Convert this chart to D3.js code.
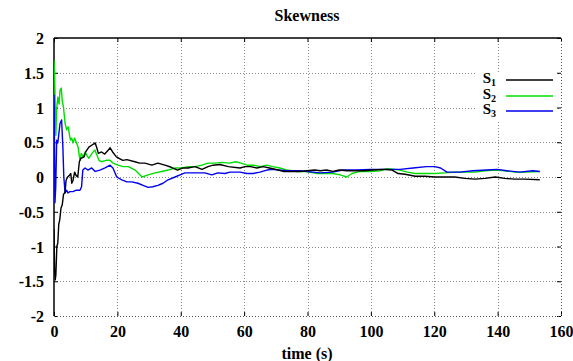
<!DOCTYPE html>
<html>
<head>
<meta charset="utf-8">
<script src="https://cdn.jsdelivr.net/npm/d3@7"></script>
<style>
  html, body { margin: 0; padding: 0; background: #fff; }
  svg { display: block; }
  text { font-family: "Liberation Serif", "DejaVu Serif", serif; font-weight: bold; fill: #000; }
</style>
</head>
<body>
<svg id="chart" width="573" height="361"></svg>
<script>
// Axis ticks
const xTicks = [0, 20, 40, 60, 80, 100, 120, 140, 160];
const yTicks = [-2, -1.5, -1, -0.5, 0, 0.5, 1, 1.5, 2];

// S1 (black)
const s1Time = [0, 0.2, 0.4, 0.6, 0.9, 1.2, 1.5, 1.8, 2.2, 2.6, 3.0, 3.5, 3.8, 4.3, 4.8, 5.3, 5.6, 6.0, 6.5, 7.0, 7.5, 8.0, 8.5, 9.5, 10, 11, 12, 13, 13.5, 14, 15, 16, 17, 17.7, 18.5, 19.7, 21.7, 23, 25.5, 27, 28.7, 30.9, 32.8, 35, 37, 39, 40.7, 42.3, 44.5, 46.7, 48.6, 50.2, 52.4, 55, 58.7, 60.3, 62, 64, 66, 68, 70.7, 72.3, 75.4, 77.6, 79.8, 82.3, 84, 86, 88, 90, 92.5, 94.3, 97.5, 100.7, 103.8, 106.7, 108.6, 110.8, 114, 117, 120.2, 123.4, 126.5, 129.7, 132.8, 136, 139.2, 142.3, 145.5, 148.6, 153.3];
const s1Vals = [-0.75, -1.35, -1.48, -1.40, -1.0, -0.95, -0.68, -0.62, -0.45, -0.40, -0.25, -0.22, -0.05, 0.0, 0.02, 0.05, -0.09, -0.05, 0.07, 0.02, 0.0, 0.22, 0.27, 0.29, 0.36, 0.43, 0.46, 0.49, 0.42, 0.34, 0.36, 0.33, 0.38, 0.42, 0.36, 0.29, 0.24, 0.25, 0.22, 0.2, 0.2, 0.17, 0.2, 0.17, 0.14, 0.1, 0.13, 0.13, 0.15, 0.11, 0.15, 0.17, 0.18, 0.15, 0.13, 0.15, 0.15, 0.13, 0.15, 0.13, 0.1, 0.08, 0.08, 0.08, 0.09, 0.1, 0.09, 0.1, 0.08, 0.1, 0.09, 0.09, 0.09, 0.1, 0.11, 0.1, 0.05, 0.04, 0.01, 0.01, 0.0, 0.0, 0.0, -0.02, -0.03, -0.02, 0.0, -0.02, -0.03, -0.03, -0.04];

// S2 (green)
const s2Time = [0, 0.2, 0.4, 0.6, 0.8, 1.2, 1.6, 1.9, 2.3, 2.6, 3.0, 3.5, 4.0, 4.5, 4.9, 5.2, 5.6, 6.0, 6.5, 7.0, 7.6, 8.0, 8.2, 8.6, 9.2, 9.8, 10.5, 11, 12, 12.9, 13.5, 14.2, 14.9, 16.5, 17.7, 18.6, 20.2, 21.8, 23.5, 25.6, 27.8, 29.7, 31.9, 34, 36, 38.2, 40.4, 42.3, 44.5, 46.7, 48.6, 50.8, 53, 55.5, 57.4, 59, 61, 63, 65, 67.2, 69, 71.3, 73.5, 76.7, 79.8, 83, 85, 88, 90.3, 92.4, 94, 96.6, 99.7, 102.9, 105, 109.2, 111.5, 114, 117, 120.2, 123.4, 126.5, 129.7, 132.8, 136, 139.2, 142.3, 145.5, 148.6, 153.3];
const s2Vals = [1.68, 1.45, 1.0, 0.6, 0.96, 1.15, 1.05, 1.25, 1.28, 1.1, 1.0, 0.77, 0.68, 0.72, 0.6, 0.53, 0.56, 0.49, 0.56, 0.5, 0.43, 0.3, 0.24, 0.34, 0.29, 0.36, 0.3, 0.27, 0.34, 0.39, 0.32, 0.24, 0.22, 0.24, 0.24, 0.2, 0.17, 0.15, 0.15, 0.1, 0.0, 0.03, 0.06, 0.08, 0.1, 0.13, 0.13, 0.15, 0.15, 0.17, 0.2, 0.2, 0.21, 0.2, 0.22, 0.2, 0.17, 0.17, 0.15, 0.17, 0.15, 0.13, 0.1, 0.08, 0.08, 0.05, 0.05, 0.05, 0.03, 0.0, 0.05, 0.08, 0.08, 0.09, 0.12, 0.1, 0.07, 0.05, 0.05, 0.05, 0.06, 0.07, 0.07, 0.07, 0.09, 0.1, 0.09, 0.07, 0.07, 0.08];

// S3 (blue)
const s3Time = [0, 0.15, 0.3, 0.55, 0.85, 1.2, 1.9, 2.4, 2.8, 3.1, 3.5, 4.0, 4.4, 5.0, 6.0, 7.0, 8.2, 8.7, 9.1, 9.8, 10.7, 11.9, 13.0, 14.5, 16.1, 17.7, 18.6, 19.8, 21.4, 23, 24.5, 26.5, 28.1, 29.7, 31.2, 32.8, 34.4, 36, 38.2, 39.8, 41.3, 43.5, 45.4, 47.6, 49.8, 51.7, 54, 55.5, 58.7, 60.9, 62.8, 65, 67.2, 69, 73.5, 77.6, 81.7, 84, 88, 91.1, 95.6, 99.7, 105, 109.2, 113.3, 117.5, 120.2, 122, 124, 128, 132.2, 136.6, 139.8, 142.9, 147, 151.1, 153.3];
const s3Vals = [1.18, 0.5, -0.37, -0.14, 0.53, 0.49, 0.77, 0.82, 0.43, 0.0, -0.23, -0.19, -0.23, -0.21, -0.21, -0.19, -0.19, -0.14, 0.1, 0.13, 0.1, 0.13, 0.08, 0.1, 0.13, 0.17, 0.13, 0.0, -0.04, -0.07, -0.07, -0.09, -0.12, -0.15, -0.14, -0.12, -0.09, -0.04, 0.0, 0.03, 0.06, 0.06, 0.06, 0.06, 0.03, 0.06, 0.05, 0.07, 0.07, 0.05, 0.05, 0.07, 0.1, 0.11, 0.09, 0.09, 0.07, 0.06, 0.07, 0.1, 0.1, 0.11, 0.11, 0.11, 0.13, 0.15, 0.15, 0.13, 0.07, 0.07, 0.09, 0.1, 0.11, 0.09, 0.07, 0.09, 0.08];

const seriesNames = ["S", "S", "S"];
const seriesSubs = ["1", "2", "3"];
const seriesColors = ["#000000", "#00dd00", "#0000ee"];

const series = [
  { time: s1Time, vals: s1Vals },
  { time: s2Time, vals: s2Vals },
  { time: s3Time, vals: s3Vals }
];

const svg = d3.select("#chart");
const plotLeft = 54, plotRight = 561, plotTop = 38, plotBottom = 316;

const x = d3.scaleLinear().domain([0, 160]).range([plotLeft, plotRight]);
const y = d3.scaleLinear().domain([-2, 2]).range([plotBottom, plotTop]);

// grid
const grid = svg.append("g").attr("stroke", "#8a8a8a").attr("stroke-width", 1).attr("stroke-dasharray", "1,2");
grid.selectAll("line.v").data(xTicks.slice(1, -1)).join("line")
  .attr("x1", d => Math.round(x(d)) + 0.5).attr("x2", d => Math.round(x(d)) + 0.5)
  .attr("y1", plotTop).attr("y2", plotBottom);
grid.selectAll("line.h").data(yTicks.slice(1, -1)).join("line")
  .attr("y1", d => Math.round(y(d)) + 0.5).attr("y2", d => Math.round(y(d)) + 0.5)
  .attr("x1", plotLeft).attr("x2", plotRight);

// key box covers grid behind the legend
svg.append("rect").attr("x", 476).attr("y", 72).attr("width", 82).attr("height", 48).attr("fill", "#fff");

// axes with ticks drawn inward
const axisG = svg.append("g");
const bottomAxis = d3.axisBottom(x).tickValues(xTicks).tickSize(-4).tickPadding(10).tickFormat(d3.format("d"));
const leftAxis = d3.axisLeft(y).tickValues(yTicks).tickSize(-4).tickPadding(10).tickFormat(d => String(d));
const topAxis = d3.axisTop(x).tickValues(xTicks).tickSize(-4).tickFormat("");
const rightAxis = d3.axisRight(y).tickValues(yTicks).tickSize(-4).tickFormat("");

const gb = axisG.append("g").attr("transform", `translate(0,${plotBottom})`).call(bottomAxis);
const gl = axisG.append("g").attr("transform", `translate(${plotLeft},0)`).call(leftAxis);
const gt = axisG.append("g").attr("transform", `translate(0,${plotTop})`).call(topAxis);
const gr = axisG.append("g").attr("transform", `translate(${plotRight},0)`).call(rightAxis);

[gb, gl, gt, gr].forEach(g => {
  g.select(".domain").remove();
  g.selectAll(".tick line").attr("stroke", "#000").attr("stroke-width", 1);
  g.selectAll("text").attr("font-size", 16).attr("font-family", "Liberation Serif, serif").attr("font-weight", "bold");
});
gl.selectAll(".tick text").attr("dy", "0.35em");

// border: solid left/top, dotted right/bottom
svg.append("line").attr("x1", plotLeft).attr("x2", plotLeft).attr("y1", plotTop).attr("y2", plotBottom)
  .attr("stroke", "#000").attr("stroke-width", 1.5);
svg.append("line").attr("x1", plotLeft).attr("x2", plotRight).attr("y1", plotTop).attr("y2", plotTop)
  .attr("stroke", "#000").attr("stroke-width", 1.5);
svg.append("line").attr("x1", plotLeft).attr("x2", plotRight).attr("y1", plotBottom + 0.5).attr("y2", plotBottom + 0.5)
  .attr("stroke", "#555").attr("stroke-width", 1).attr("stroke-dasharray", "1,2");
svg.append("line").attr("x1", plotRight + 0.5).attr("x2", plotRight + 0.5).attr("y1", plotTop).attr("y2", plotBottom)
  .attr("stroke", "#555").attr("stroke-width", 1).attr("stroke-dasharray", "1,2");

// series lines
svg.append("clipPath").attr("id", "plotclip").append("rect")
  .attr("x", plotLeft).attr("y", plotTop).attr("width", plotRight - plotLeft).attr("height", plotBottom - plotTop);

const lineGen = d3.line().x(d => x(d[0])).y(d => y(d[1]));
const linesG = svg.append("g").attr("clip-path", "url(#plotclip)");
[1, 2, 0].forEach(i => {
  const s = series[i];
  const pts = s.time.map((t, k) => [t, s.vals[k]]);
  linesG.append("path").datum(pts)
    .attr("d", lineGen)
    .attr("fill", "none")
    .attr("stroke", seriesColors[i])
    .attr("stroke-width", 1.4)
    .attr("stroke-linejoin", "round");
});

// legend
const legendYs = [80, 96, 111];
const leg = svg.append("g");
seriesNames.forEach((name, i) => {
  const t = leg.append("text").attr("x", 496).attr("y", legendYs[i] + 3)
    .attr("text-anchor", "end").attr("font-size", 15);
  t.append("tspan").text(name);
  t.append("tspan").text(seriesSubs[i]).attr("font-size", 10).attr("dy", 3);
  leg.append("line").attr("x1", 506).attr("x2", 553)
    .attr("y1", legendYs[i]).attr("y2", legendYs[i])
    .attr("stroke", seriesColors[i]).attr("stroke-width", 1.3);
});

// title and axis label
svg.append("text").attr("x", 307).attr("y", 21).attr("text-anchor", "middle")
  .attr("font-size", 16).text("Skewness");
svg.append("text").attr("x", 307).attr("y", 359).attr("text-anchor", "middle")
  .attr("font-size", 16).text("time (s)");
</script>
</body>
</html>
